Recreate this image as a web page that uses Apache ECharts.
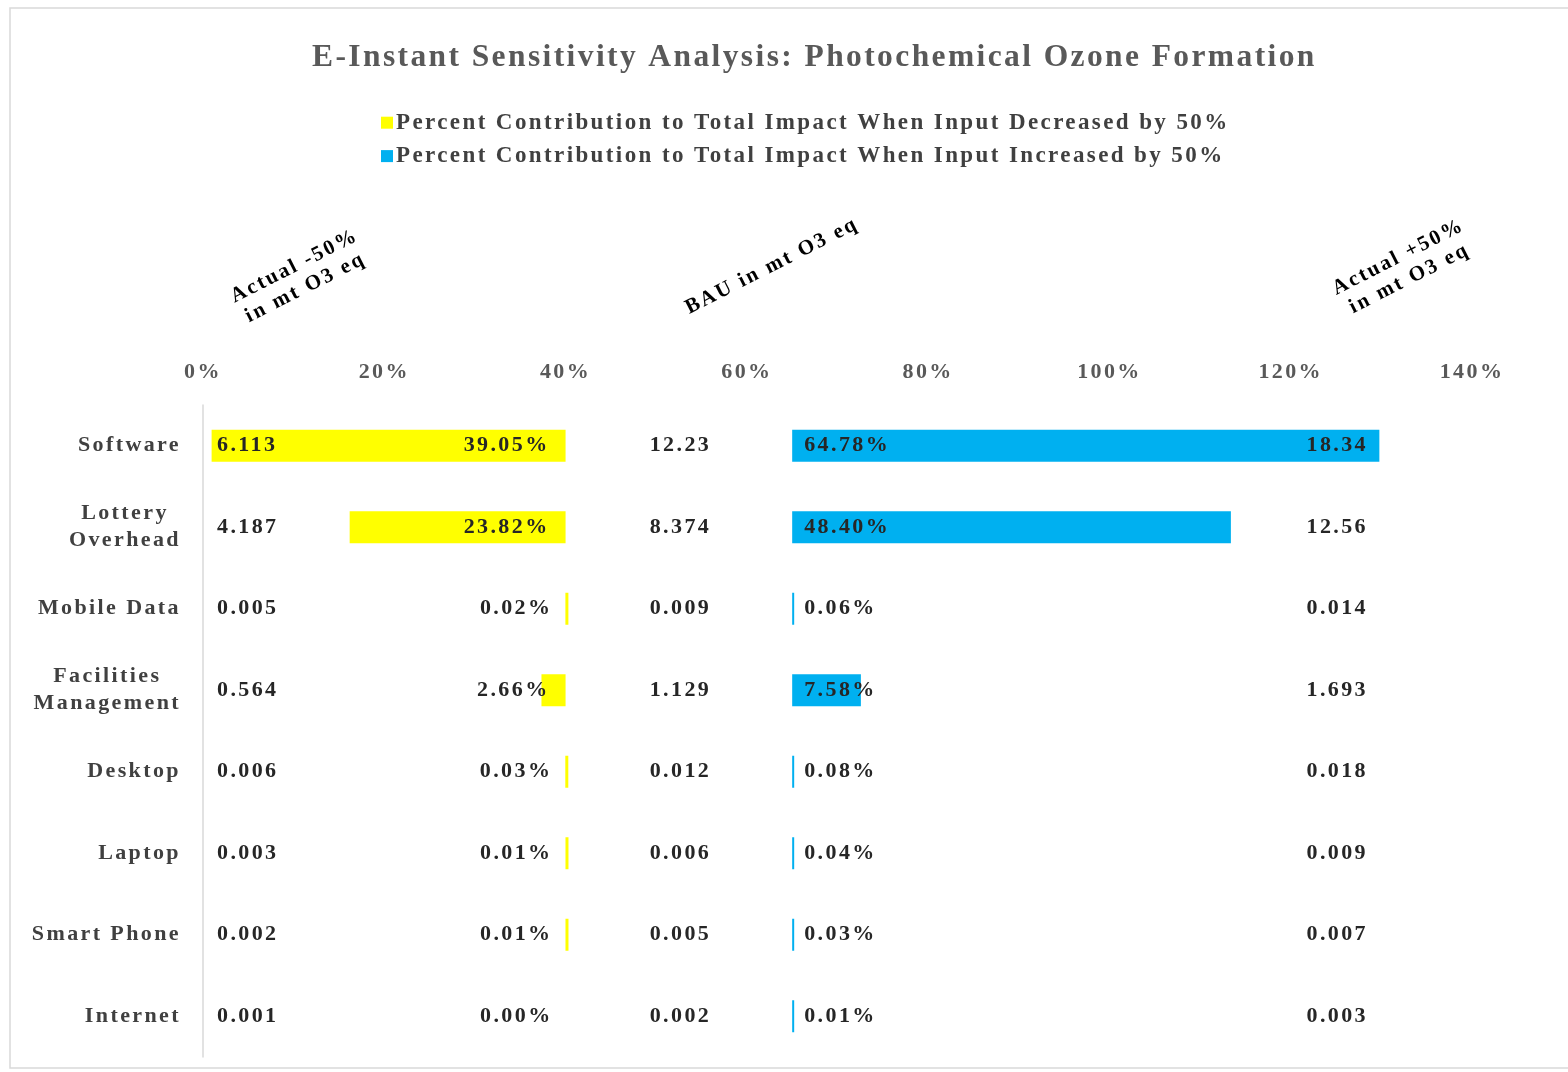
<!DOCTYPE html>
<html>
<head>
<meta charset="utf-8">
<title>E-Instant Sensitivity Analysis</title>
<script src="https://cdn.jsdelivr.net/npm/echarts@6/dist/echarts.min.js"></script>
<style>
  html, body { margin: 0; padding: 0; background: #fff; }
  #chartBox { width: 1568px; height: 1072px; }
</style>
</head>
<body>
<div id="chartBox"></div>
<script>
  // data
  var categories = ['Software', 'Lottery\nOverhead', 'Mobile Data', 'Facilities\nManagement', 'Desktop', 'Laptop', 'Smart Phone', 'Internet'];
  var pctDecreased = [39.05, 23.82, 0.02, 2.66, 0.03, 0.01, 0.01, 0.00];   // % contribution, input -50%
  var pctIncreased = [64.78, 48.40, 0.06, 7.58, 0.08, 0.04, 0.03, 0.01];   // % contribution, input +50%
  var actualMinus = ['6.113', '4.187', '0.005', '0.564', '0.006', '0.003', '0.002', '0.001'];
  var bauValues = ['12.23', '8.374', '0.009', '1.129', '0.012', '0.006', '0.005', '0.002'];
  var actualPlus = ['18.34', '12.56', '0.014', '1.693', '0.018', '0.009', '0.007', '0.003'];
  var xTicks = [0, 20, 40, 60, 80, 100, 120, 140];

  var decBase = 40;   // yellow bars end here
  var incBase = 65;   // blue bars start here

  // the original (Excel export) draws its text with wide letter spacing
  var proto = CanvasRenderingContext2D.prototype;
  ['fillText', 'strokeText', 'measureText'].forEach(function (fn) {
    var orig = proto[fn];
    proto[fn] = function () {
      if ('letterSpacing' in this) this.letterSpacing = '2.4px';
      return orig.apply(this, arguments);
    };
  });

  var serif = '"Liberation Serif", "Times New Roman", serif';
  var labelText = { fontFamily: serif, fontWeight: 'bold', fontSize: 22, color: '#262626' };

  var chart = echarts.init(document.getElementById('chartBox'));

  var option = {
    backgroundColor: '#fff',
    animation: false,
    title: {
      text: 'E-Instant Sensitivity Analysis: Photochemical Ozone Formation',
      left: 307,
      top: 36,
      textStyle: { fontFamily: serif, fontWeight: 'bold', fontSize: 31.5, color: '#595959' }
    },
    legend: {
      orient: 'vertical',
      left: 376,
      top: 105,
      itemWidth: 12,
      itemHeight: 12,
      itemGap: 8,
      icon: 'rect',
      data: ['Percent Contribution to Total Impact When Input Decreased by 50%',
             'Percent Contribution to Total Impact When Input Increased by 50%'],
      textStyle: { fontFamily: serif, fontWeight: 'bold', fontSize: 23, color: '#404040', padding: [0, 0, 0, -2] }
    },
    grid: { left: 203, right: 96, top: 405, bottom: 15 },
    xAxis: {
      type: 'value',
      position: 'top',
      min: xTicks[0],
      max: xTicks[xTicks.length - 1],
      interval: xTicks[1] - xTicks[0],
      axisLine: { show: false },
      axisTick: { show: false },
      splitLine: { show: false },
      axisLabel: {
        margin: 20,
        formatter: '{value}%',
        fontFamily: serif, fontWeight: 'bold', fontSize: 22, color: '#595959'
      }
    },
    yAxis: {
      type: 'category',
      inverse: true,
      data: categories,
      axisLine: { show: true, lineStyle: { color: '#d9d9d9', width: 1.5 } },
      axisTick: { show: false },
      axisLabel: {
        margin: 22,
        formatter: function (v) {
          return v.split('\n').map(function (s) { return '{c|' + s + '}'; }).join('\n');
        },
        rich: {
          c: { align: 'center', fontFamily: serif, fontWeight: 'bold', fontSize: 22, color: '#404040', lineHeight: 27 }
        }
      }
    },
    series: [
      {   // invisible offset so the yellow bars end at 40%
        name: 'decOffset',
        type: 'bar',
        stack: 'dec',
        barWidth: 32,
        barGap: '-100%',
        itemStyle: { color: 'rgba(0,0,0,0)' },
        silent: true,
        data: pctDecreased.map(function (v) { return decBase - v; }),
        label: {
          show: true,
          position: 'insideLeft',
          distance: 14,
          formatter: function (p) { return actualMinus[p.dataIndex]; },
          ...labelText
        }
      },
      {
        name: 'Percent Contribution to Total Impact When Input Decreased by 50%',
        type: 'bar',
        stack: 'dec',
        barWidth: 32,
        barGap: '-100%',
        barMinHeight: 3,
        itemStyle: { color: '#FFFF00' },
        data: pctDecreased.map(function (v) {
          return v > 0 ? v : { value: v, itemStyle: { color: 'rgba(0,0,0,0)' } };
        }),
        label: {
          show: true,
          position: 'insideRight',
          distance: 16,
          formatter: function (p) { return pctDecreased[p.dataIndex].toFixed(2) + '%'; },
          ...labelText
        }
      },
      {   // invisible offset so the blue bars start at 65%, carries the BAU label
        name: 'incOffset',
        type: 'bar',
        stack: 'inc',
        barWidth: 32,
        barGap: '-100%',
        itemStyle: { color: 'rgba(0,0,0,0)' },
        silent: true,
        data: categories.map(function () { return incBase; }),
        label: {
          show: true,
          position: 'insideRight',
          distance: 81,
          formatter: function (p) { return bauValues[p.dataIndex]; },
          ...labelText
        }
      },
      {
        name: 'Percent Contribution to Total Impact When Input Increased by 50%',
        type: 'bar',
        stack: 'inc',
        barWidth: 32,
        barGap: '-100%',
        barMinHeight: 2,
        itemStyle: { color: '#00B0F0' },
        data: pctIncreased,
        label: {
          show: true,
          position: 'insideLeft',
          distance: 12,
          formatter: function (p) { return pctIncreased[p.dataIndex].toFixed(2) + '%'; },
          ...labelText
        }
      },
      {   // full width track, only used for the +50% value column
        name: 'track',
        type: 'bar',
        barWidth: 32,
        barGap: '-100%',
        z: 5,
        silent: true,
        itemStyle: { color: 'rgba(0,0,0,0)' },
        data: categories.map(function () { return xTicks[xTicks.length - 1]; }),
        label: {
          show: true,
          position: 'insideRight',
          distance: 104,
          formatter: function (p) { return actualPlus[p.dataIndex]; },
          ...labelText
        }
      }
    ],
    graphic: [
      {   // chart border
        type: 'rect',
        shape: { x: 10, y: 8, width: 1600, height: 1060 },
        style: { fill: 'none', stroke: '#d9d9d9', lineWidth: 1.5 },
        silent: true
      },
      {
        type: 'text', x: 300, y: 277, rotation: 0.47,
        style: { text: 'Actual -50%\nin mt O3 eq', align: 'center', verticalAlign: 'middle',
                 font: 'bold 21px ' + serif, fill: '#000', lineHeight: 24 }
      },
      {
        type: 'text', x: 772, y: 266, rotation: 0.47,
        style: { text: 'BAU in mt O3 eq', align: 'center', verticalAlign: 'middle',
                 font: 'bold 21px ' + serif, fill: '#000' }
      },
      {
        type: 'text', x: 1404, y: 268, rotation: 0.47,
        style: { text: 'Actual +50%\nin mt O3 eq', align: 'center', verticalAlign: 'middle',
                 font: 'bold 21px ' + serif, fill: '#000', lineHeight: 24 }
      }
    ]
  };

  chart.setOption(option);
</script>
</body>
</html>
